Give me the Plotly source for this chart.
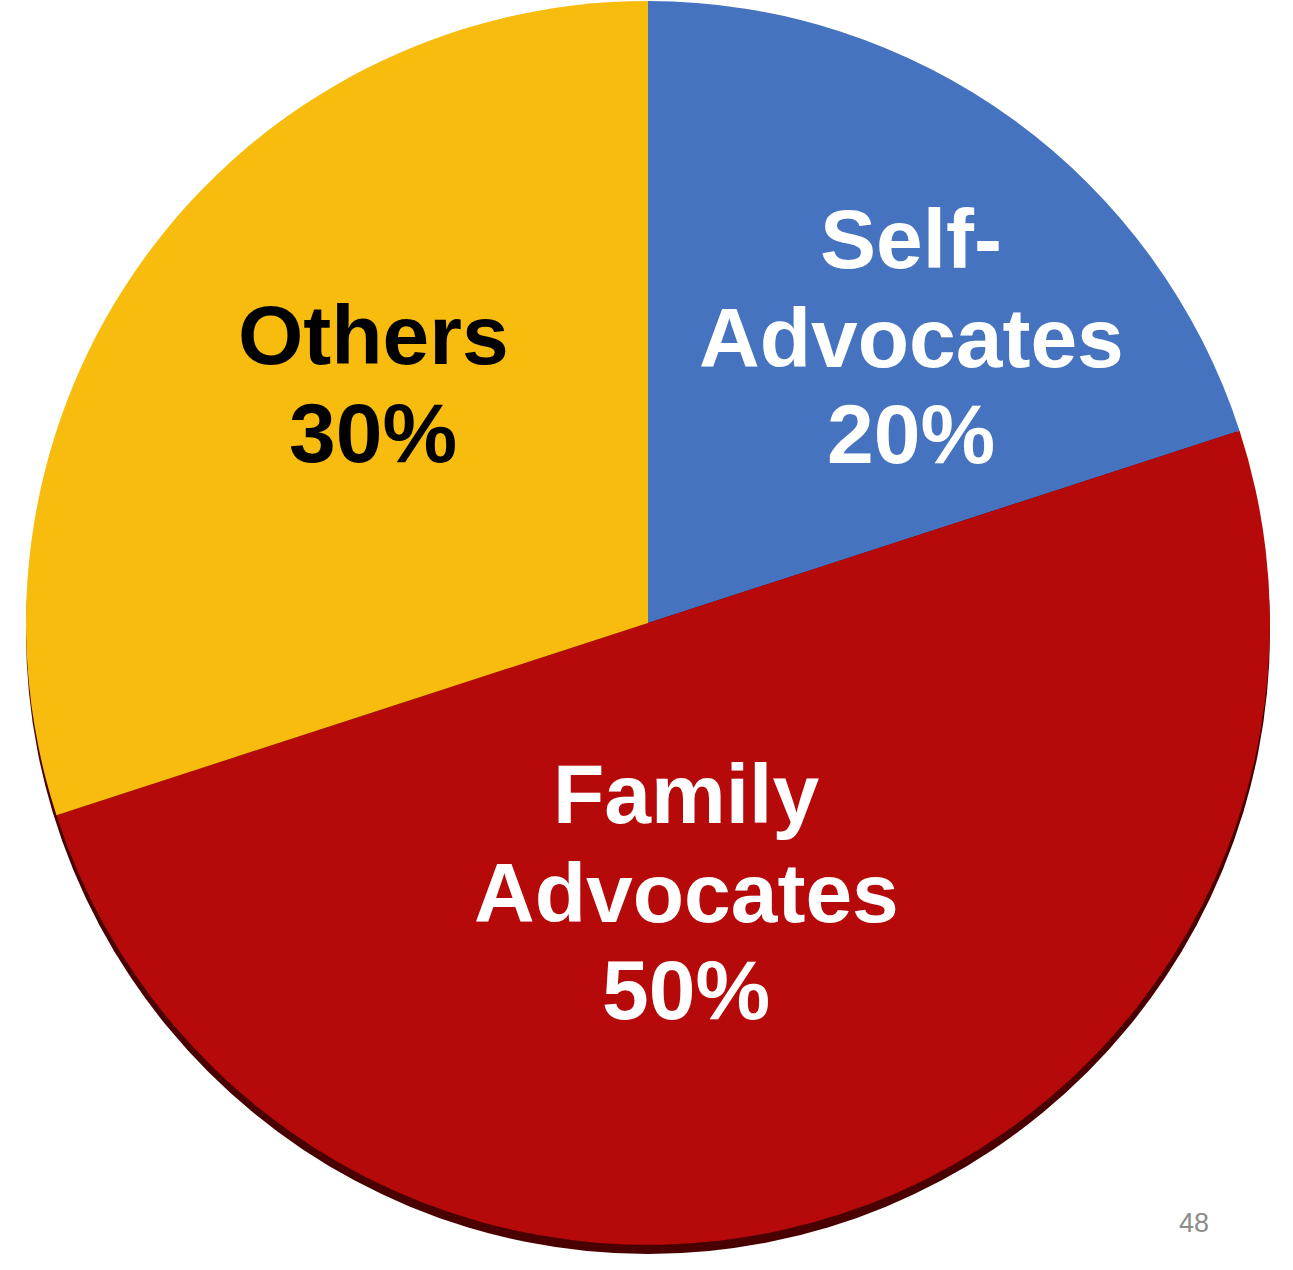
import plotly.graph_objects as go

labels = ["Self-<br>Advocates", "Family<br>Advocates", "Others"]
values = [20, 50, 30]
colors = ["#4673BF", "#B60A0A", "#F7BC0E"]
text_colors = ["white", "white", "black"]
# per-line label anchor positions (page pixels): x centre and y centre of each line
label_x = [911, 686, 373]
label_line_y = [[236, 335, 431], [791, 890, 987], [332, 430]]

W, H = 1293, 1270
cx, cy, r = 648, 623, 622
FS = 84

fig = go.Figure(go.Pie(
    labels=labels,
    values=values,
    sort=False,
    direction="clockwise",
    rotation=0,
    marker=dict(colors=colors, line=dict(width=0)),
    textinfo="none",
    hoverinfo="label+percent",
    showlegend=False,
    domain=dict(x=[(cx - r) / W, (cx + r) / W], y=[1 - (cy + r) / H, 1 - (cy - r) / H]),
))

fig.add_shape(
    type="circle", xref="paper", yref="paper", layer="below",
    x0=(cx - r) / W, x1=(cx + r) / W,
    y0=1 - (cy + r + 9) / H, y1=1 - (cy - r + 9) / H,
    fillcolor="#4A0000", line=dict(width=0),
)

total = sum(values)
for lab, v, tc, x, ys in zip(labels, values, text_colors, label_x, label_line_y):
    lines = lab.split("<br>") + [f"{round(100 * v / total)}%"]
    for line, y in zip(lines, ys):
        fig.add_annotation(
            x=x / W, y=1 - (y + 3) / H, xref="paper", yref="paper", showarrow=False,
            text=f"<b>{line}</b>",
            font=dict(family="Liberation Sans, Arial, sans-serif", size=FS, color=tc),
            align="center", xanchor="center", yanchor="middle",
        )

fig.add_annotation(
    x=1194 / W, y=1 - 1223 / H, xref="paper", yref="paper", showarrow=False,
    text="48", font=dict(family="Liberation Sans, Arial, sans-serif", size=27, color="#8C8C8C"),
    xanchor="center", yanchor="middle",
)

fig.update_layout(
    width=W, height=H,
    margin=dict(l=0, r=0, t=0, b=0),
    paper_bgcolor="white", plot_bgcolor="white",
)

fig.write_html("out.html", config={"displayModeBar": False},
               post_script="document.body.style.margin='0px';")
